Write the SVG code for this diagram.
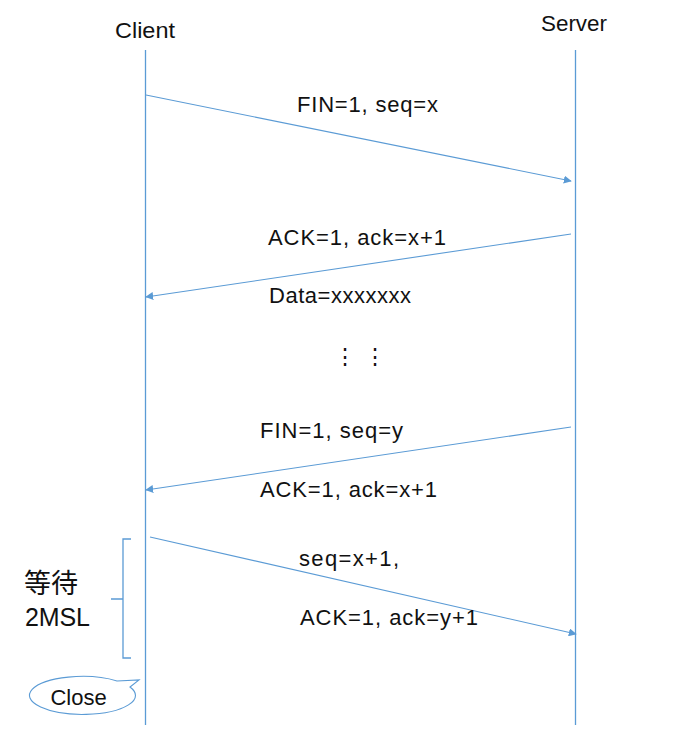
<svg xmlns="http://www.w3.org/2000/svg" width="690" height="732" viewBox="0 0 690 732">
<defs>
<style>
.t{font-family:"Liberation Sans","Noto Sans","Noto Sans CJK SC",sans-serif;font-size:22px;fill:#111}
.ln{stroke:#5B9BD5;stroke-width:1.3;fill:none}
.ar{stroke:#5B9BD5;stroke-width:1.1;fill:none}
</style>
<marker id="ah" viewBox="0 0 10 10" refX="9" refY="5" markerWidth="8" markerHeight="8" markerUnits="userSpaceOnUse" orient="auto">
<path d="M0,0 L10,5 L0,10 z" fill="#5B9BD5"/>
</marker>
</defs>
<rect width="690" height="732" fill="#fff"/>
<g id="client">
<text class="t" x="115" y="38" textLength="60" lengthAdjust="spacingAndGlyphs">Client</text>
<line class="ln" x1="145.5" y1="50" x2="145.5" y2="725"/>
</g>
<g id="server">
<text class="t" x="541" y="31" textLength="66" lengthAdjust="spacingAndGlyphs">Server</text>
<line class="ln" x1="575.5" y1="50" x2="575.5" y2="725"/>
</g>
<g id="connectors">
<line class="ar" x1="146" y1="95" x2="571" y2="181" marker-end="url(#ah)"/>
<line class="ar" x1="571" y1="234" x2="146" y2="297" marker-end="url(#ah)"/>
<line class="ar" x1="571" y1="427" x2="146" y2="490" marker-end="url(#ah)"/>
<line class="ar" x1="150" y1="537" x2="576" y2="634" marker-end="url(#ah)"/>
</g>
<g id="labels">
<text class="t" x="297" y="112" textLength="141">FIN=1, seq=x</text>
<text class="t" x="268" y="245" textLength="178">ACK=1, ack=x+1</text>
<text class="t" x="269" y="303" textLength="142">Data=xxxxxxx</text>
<text class="t" x="334" y="364">⋮</text>
<text class="t" x="364" y="364">⋮</text>
<text class="t" x="260" y="438" textLength="143">FIN=1, seq=y</text>
<text class="t" x="260" y="497" textLength="177">ACK=1, ack=x+1</text>
<text class="t" x="299" y="566" textLength="100">seq=x+1,</text>
<text class="t" x="300" y="625" textLength="178">ACK=1, ack=y+1</text>
</g>
<g id="wait">
<path class="ln" d="M131,539 L123,539 L123,658 L131,658 M111,599 L123,599"/>
<text class="t" x="24" y="593" style="font-size:27px">等待</text>
<text class="t" x="25" y="626" style="font-size:25px" textLength="65">2MSL</text>
</g>
<g id="close">
<path class="ar" fill="#fff" d="M117,681 L139,680 L130,687 A53,19 0 1 1 117,681 Z"/>
<text class="t" x="78.5" y="705" text-anchor="middle">Close</text>
</g>
</svg>
